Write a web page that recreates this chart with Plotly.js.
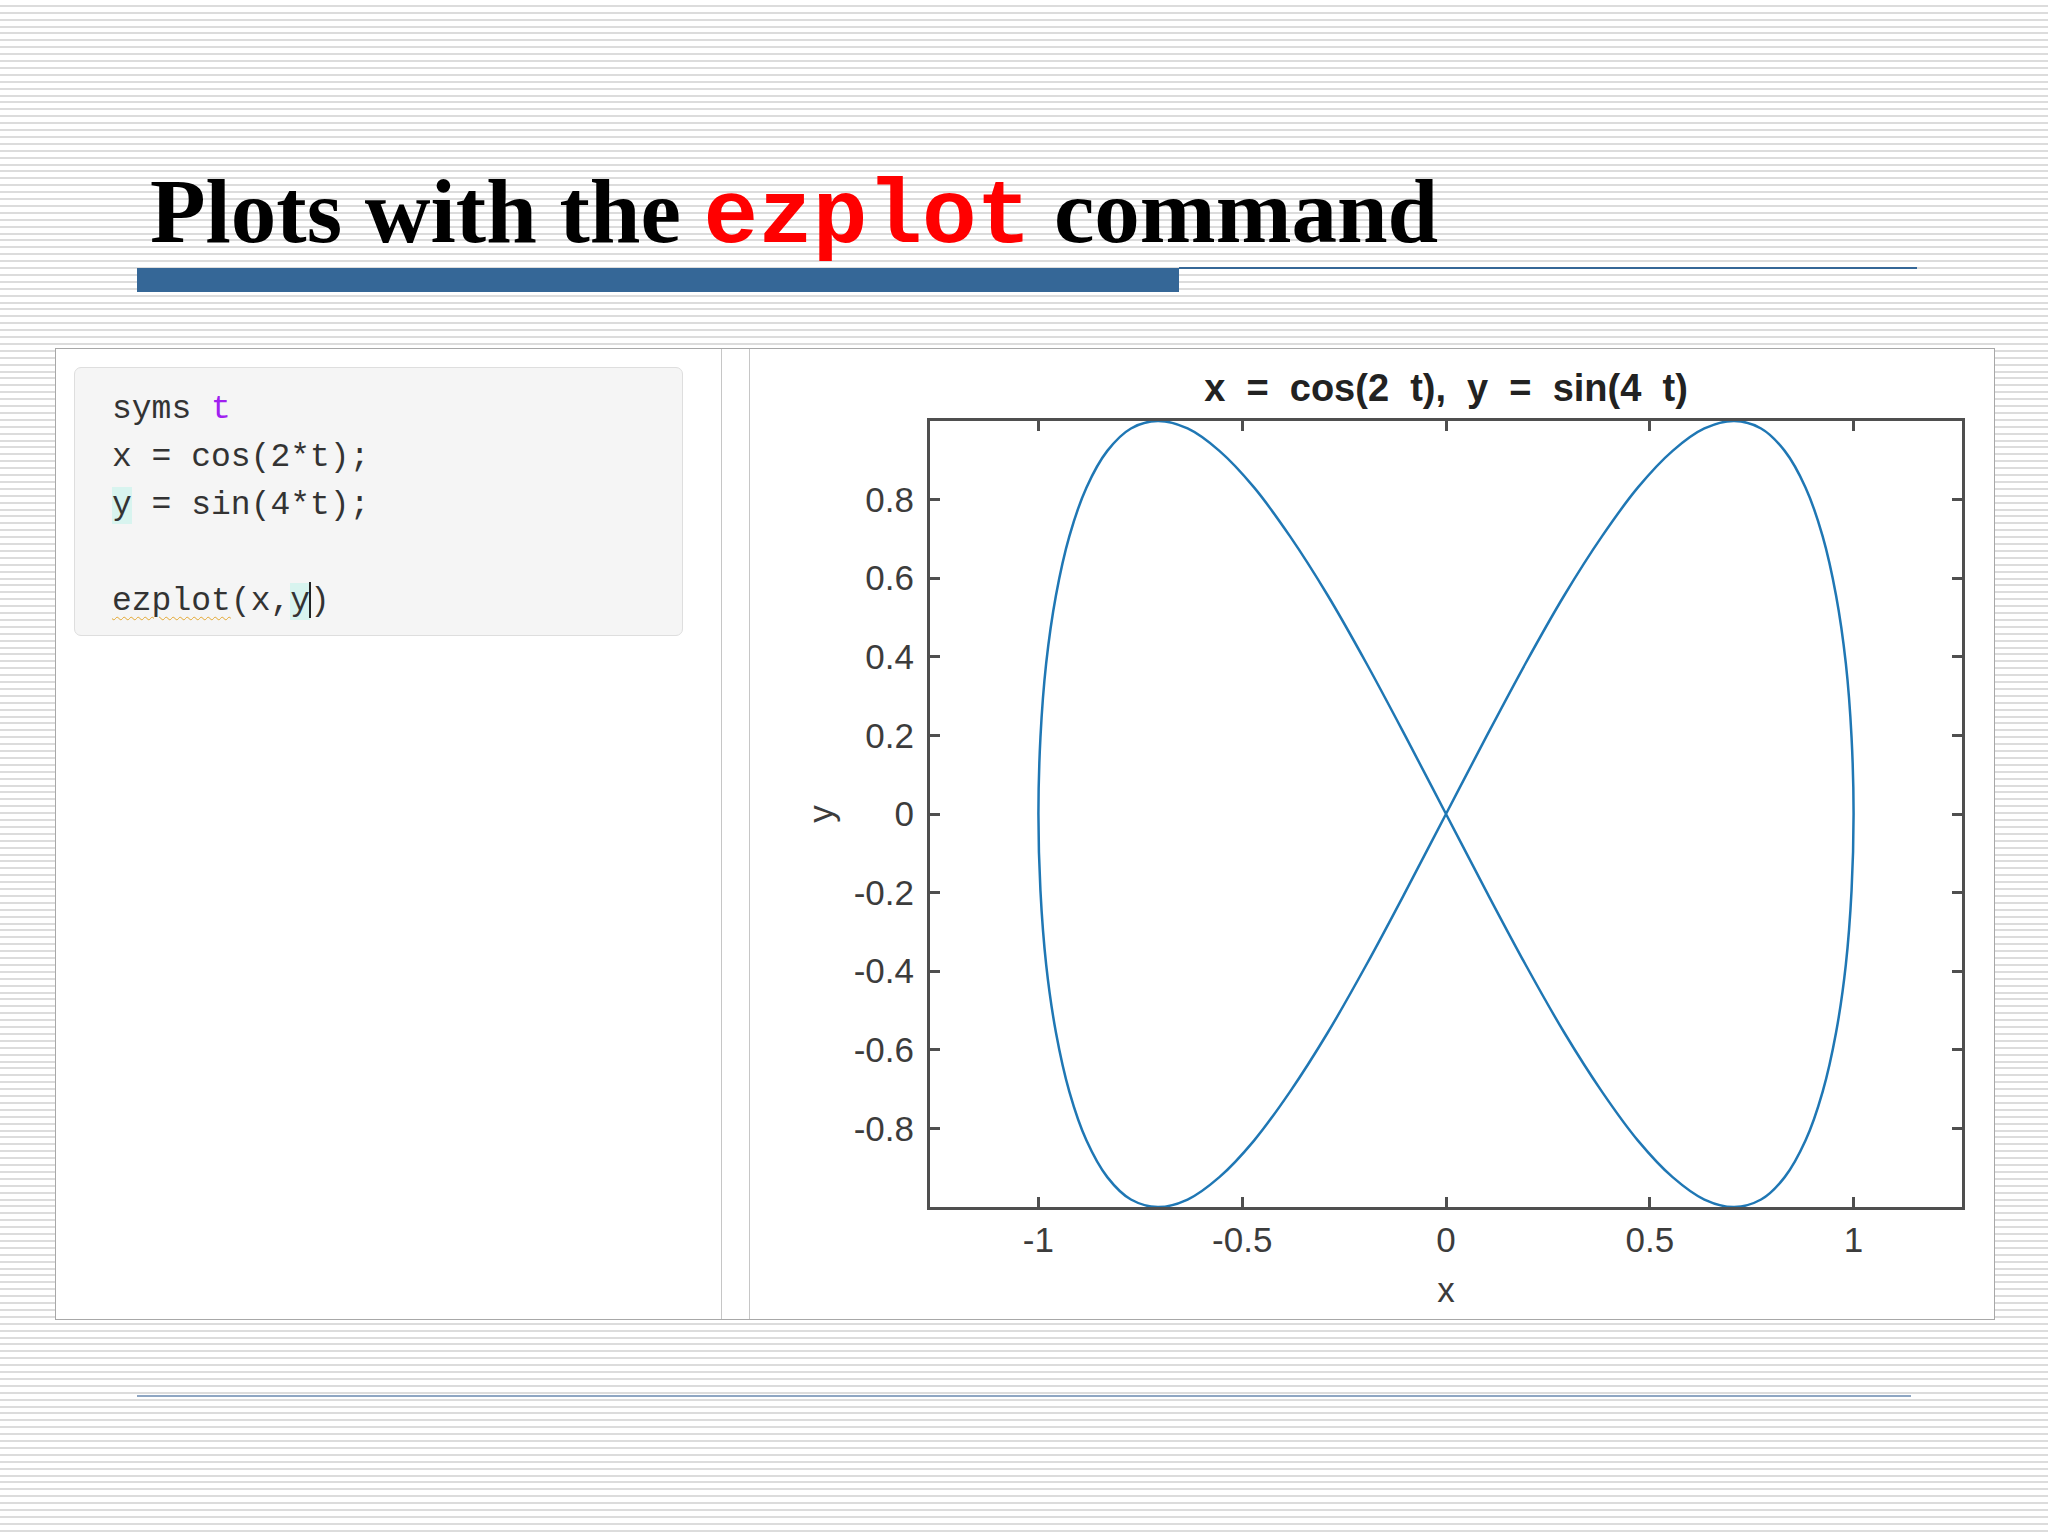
<!DOCTYPE html>
<html>
<head>
<meta charset="utf-8">
<script src="https://cdn.plot.ly/plotly-3.0.1.min.js"></script>
<style>
  html, body { margin:0; padding:0; }
  body {
    width:2048px; height:1536px; position:relative; overflow:hidden;
    background: repeating-linear-gradient(to bottom, #ffffff 0px, #ffffff 4.9px, #dcdcdc 4.9px, #dcdcdc 6.9px);
  }
  #slideTitle {
    position:absolute; left:150px; top:166px; white-space:nowrap;
    font-family:"Liberation Serif","Times New Roman",serif; font-weight:bold;
    font-size:91px; line-height:91px; color:#000;
  }
  #slideTitle .cmd { font-family:"Liberation Mono","Courier New",monospace; color:#ff0000; font-weight:bold; }
  #bar { position:absolute; left:137px; top:268px; width:1042px; height:24px; background:#356797; }
  #barLine { position:absolute; left:1179px; top:267px; width:738px; height:2px; background:#356797; }
  #bottomLine { position:absolute; left:137px; top:1395px; width:1774px; height:2px; background:#8ea6c3; }
  #panel { position:absolute; left:55px; top:348px; width:1938px; height:970px; background:#fff; border:1px solid #a8a8a8; }
  .divider { position:absolute; top:349px; width:1px; height:970px; background:#c6c6c6; }
  #codeBox {
    position:absolute; left:74px; top:367px; width:609px; height:269px;
    background:#f5f5f5; border:1px solid #dedede; border-radius:7px;
    box-sizing:border-box; padding:18px 0 0 37px;
    font-family:"Liberation Mono","DejaVu Sans Mono",monospace; font-size:33px; line-height:48px; color:#333;
    white-space:pre;
  }
  .var { color:#a020f0; }
  .hl { background:#d8f4ef; }
  .squig { text-decoration: underline wavy #e3a72f; text-decoration-thickness:1px; text-underline-offset:6px; }
  .cursor { display:inline-block; width:2px; height:36px; background:#222; vertical-align:-8px; margin:0 -1px; }
  #plot { position:absolute; left:749px; top:348px; width:1245px; height:971px; }
</style>
</head>
<body>
<div id="slideTitle">Plots with the <span class="cmd">ezplot</span> command</div>
<div id="bar"></div>
<div id="barLine"></div>
<div id="panel"></div>
<div class="divider" style="left:721px"></div>
<div class="divider" style="left:749px"></div>
<div id="codeBox">syms <span class="var">t</span>
x = cos(2*t);
<span class="hl">y</span> = sin(4*t);

<span class="squig">ezplot</span>(x,<span class="hl">y</span><span class="cursor"></span>)</div>
<div id="bottomLine"></div>
<div id="plot"></div>
<script>
const curveX = [1.000, 0.995, 0.981, 0.957, 0.924, 0.882, 0.831, 0.773, 0.707, 0.634, 0.556, 0.471, 0.383, 0.290, 0.195, 0.098,
  0.000, -0.098, -0.195, -0.290, -0.383, -0.471, -0.556, -0.634, -0.707, -0.773, -0.831, -0.882, -0.924, -0.957, -0.981, -0.995,
  -1.000, -0.995, -0.981, -0.957, -0.924, -0.882, -0.831, -0.773, -0.707, -0.634, -0.556, -0.471, -0.383, -0.290, -0.195, -0.098,
  0.000, 0.098, 0.195, 0.290, 0.383, 0.471, 0.556, 0.634, 0.707, 0.773, 0.831, 0.882, 0.924, 0.957, 0.981, 0.995, 1.000];
const curveY = [0.000, 0.195, 0.383, 0.556, 0.707, 0.831, 0.924, 0.981, 1.000, 0.981, 0.924, 0.831, 0.707, 0.556, 0.383, 0.195,
  0.000, -0.195, -0.383, -0.556, -0.707, -0.831, -0.924, -0.981, -1.000, -0.981, -0.924, -0.831, -0.707, -0.556, -0.383, -0.195,
  0.000, 0.195, 0.383, 0.556, 0.707, 0.831, 0.924, 0.981, 1.000, 0.981, 0.924, 0.831, 0.707, 0.556, 0.383, 0.195,
  0.000, -0.195, -0.383, -0.556, -0.707, -0.831, -0.924, -0.981, -1.000, -0.981, -0.924, -0.831, -0.707, -0.556, -0.383, -0.195, 0.000];
const xTickVals = [-1, -0.5, 0, 0.5, 1];
const xTickText = ['-1', '-0.5', '0', '0.5', '1'];
const yTickVals = [-0.8, -0.6, -0.4, -0.2, 0, 0.2, 0.4, 0.6, 0.8];
const yTickText = ['-0.8', '-0.6', '-0.4', '-0.2', '0', '0.2', '0.4', '0.6', '0.8'];
const plotTitle = 'x\u00a0\u00a0=\u00a0\u00a0cos(2\u00a0\u00a0t),\u00a0\u00a0y\u00a0\u00a0=\u00a0\u00a0sin(4\u00a0\u00a0t)';
const xLabel = 'x';
const yLabel = 'y';

const tickFont = {family: 'Liberation Sans, Arial, sans-serif', size: 35, color: '#3c3c3c'};
const axisCommon = {
  showgrid: false, zeroline: false, showline: true, linecolor: '#4f4f4f', linewidth: 3,
  mirror: 'ticks', ticks: 'inside', ticklen: 10, tickwidth: 3, tickcolor: '#4f4f4f',
  tickfont: tickFont, tickmode: 'array', fixedrange: true
};

const trace = {
  x: curveX, y: curveY, type: 'scatter', mode: 'lines',
  line: {color: '#1f77b4', width: 2.5, shape: 'spline', smoothing: 1},
  hoverinfo: 'skip'
};

const layout = {
  width: 1245, height: 971,
  paper_bgcolor: 'rgba(0,0,0,0)', plot_bgcolor: '#ffffff',
  margin: {l: 181, r: 32, t: 73, b: 112},
  showlegend: false,
  title: {
    text: plotTitle,
    font: {family: 'Liberation Sans, Arial, sans-serif', size: 38, color: '#222', weight: 'bold'},
    xref: 'paper', x: 0.5, xanchor: 'center',
    yref: 'container', y: 0.959, yanchor: 'middle'
  },
  xaxis: Object.assign({}, axisCommon, {
    range: [-1.266, 1.266], tickvals: xTickVals, ticktext: xTickText,
    title: {text: xLabel, font: {family: 'Liberation Sans, Arial, sans-serif', size: 35, color: '#3c3c3c'}, standoff: 20}
  }),
  yaxis: Object.assign({}, axisCommon, {
    range: [-1, 1], tickvals: yTickVals, ticktext: yTickText, ticklabelstandoff: 6,
    title: {text: yLabel, font: {family: 'Liberation Sans, Arial, sans-serif', size: 35, color: '#3c3c3c'}, standoff: 10}
  })
};

Plotly.newPlot('plot', [trace], layout, {staticPlot: true, displayModeBar: false});
</script>
</body>
</html>
